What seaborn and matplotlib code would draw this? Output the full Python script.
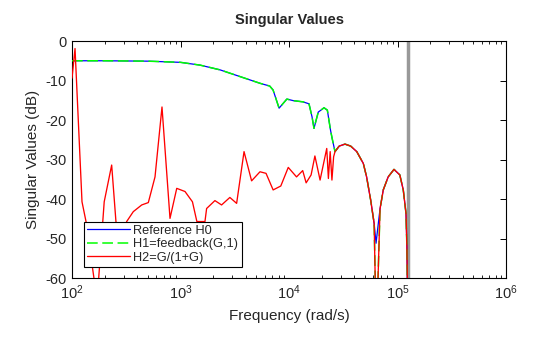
import matplotlib
matplotlib.use("Agg")
import matplotlib.pyplot as plt
import seaborn as sns
import pandas as pd
import numpy as np

# ---- data (frequency in rad/s, singular value in dB) ----
freq_h0 = [100, 200, 500, 1000, 1514, 2312, 3532, 5400, 6640, 7130, 8100, 9550,
           10960, 13460, 15280, 16300, 16990, 18600, 21020, 22560, 24100, 24950,
           26540, 29000, 32800, 37000, 42100, 48400, 51900, 56600, 60900, 63400,
           66000, 69000, 73900, 82000, 92800, 105000, 113000, 119700, 122000, 124500]
db_h0 = [-5.0, -5.0, -5.1, -5.4, -6.1, -7.3, -9.0, -10.7, -11.4, -12.4, -17.0, -14.7,
         -15.1, -15.4, -15.9, -19.2, -22.1, -18.0, -16.9, -17.5, -22.5, -24.6,
         -28.0, -26.6, -26.1, -26.6, -28.0, -31.0, -34.4, -40.3, -46.2, -51.2,
         -47.0, -42.5, -37.7, -34.4, -32.5, -33.9, -37.7, -43.6, -52.0, -70.0]

freq_h1 = [100, 200, 500, 1000, 1514, 2312, 3532, 5400, 6640, 7130, 8100, 9550,
           10960, 13460, 15280, 16300, 16990, 18600, 21020, 22560, 24100, 24950,
           26540, 29000, 32800, 37000, 42100, 48400, 51900, 56600, 60900, 63800,
           69000, 73900, 82000, 92800, 105000, 113000, 119700, 122000, 124500]
db_h1 = [-5.0, -5.0, -5.1, -5.4, -6.1, -7.3, -9.0, -10.7, -11.4, -12.4, -17.0, -14.7,
         -15.1, -15.4, -15.9, -19.2, -22.1, -18.0, -16.9, -17.5, -22.5, -24.6,
         -28.0, -26.6, -26.1, -26.6, -28.0, -31.0, -34.4, -40.3, -46.2, -75.0,
         -42.5, -37.7, -34.4, -32.5, -33.9, -37.7, -43.6, -52.0, -70.0]

freq_h2 = [100, 106.6, 123.6, 134.6, 163, 168, 174, 198, 232, 254, 285, 319, 367,
           439, 505, 582, 675, 800, 923, 1100, 1288, 1415, 1680, 1740, 2075, 2390,
           2850, 3290, 3850, 4520, 5400, 6140, 7140, 8400, 9840, 11730, 13370,
           14380, 15980, 17320, 19330, 22270, 23060, 23950, 24860, 25770, 26540,
           29000, 32800, 37000, 42100, 48400, 51900, 56600, 60900, 63800, 69000,
           73900, 82000, 92800, 105000, 113000, 119700, 122000, 124500]
db_h2 = [-9.4, -1.9, -40.7, -45.7, -62.0, -66.0, -62.0, -40.7, -31.4, -45.7, -50.0,
         -45.7, -43.2, -41.5, -40.9, -34.4, -16.7, -44.9, -37.3, -38.1, -40.7, -45.7,
         -45.7, -42.4, -40.4, -41.5, -39.6, -41.1, -28.0, -35.4, -33.1, -33.5, -37.7,
         -36.7, -32.0, -34.4, -32.8, -35.9, -33.9, -29.1, -35.2, -27.2, -34.8, -28.0,
         -35.2, -29.3, -28.0, -26.6, -26.1, -26.6, -28.0, -31.0, -34.4, -40.3, -46.2,
         -75.0, -42.5, -37.7, -34.4, -32.5, -33.9, -37.7, -43.6, -52.0, -70.0]

nyquist = 125664  # pi / Ts
labels = ["Reference H0", "H1=feedback(G,1)", "H2=G/(1+G)"]

# ---- style ----
sns.set_theme(style="white")
plt.rcParams["font.family"] = ["Liberation Sans", "DejaVu Sans"]
plt.rcParams["axes.edgecolor"] = "black"
plt.rcParams["axes.linewidth"] = 0.8

fig = plt.figure(figsize=(5.6, 3.37), dpi=100)
ax = fig.add_axes([0.1286, 0.175, 0.775, 0.7033])

ax.axvline(nyquist, color="#999999", lw=2.5, zorder=1)

df0 = pd.DataFrame({"f": freq_h0, "db": db_h0})
df1 = pd.DataFrame({"f": freq_h1, "db": db_h1})
df2 = pd.DataFrame({"f": freq_h2, "db": db_h2})

sns.lineplot(data=df0, x="f", y="db", ax=ax, color="#0000ff", lw=0.9,
             sort=False, estimator=None, label=labels[0], zorder=2)
sns.lineplot(data=df1, x="f", y="db", ax=ax, color="#00ff00", lw=1.1,
             dashes=False, sort=False, estimator=None, label=labels[1], zorder=3)
ax.lines[-1].set_dashes((7, 3))
sns.lineplot(data=df2, x="f", y="db", ax=ax, color="#ff0000", lw=0.95,
             sort=False, estimator=None, label=labels[2], zorder=4)

ax.set_xscale("log")
ax.set_xlim(1e2, 1e6)
ax.set_ylim(-60, 0)
ax.set_yticks([0, -10, -20, -30, -40, -50, -60])
ax.set_yticklabels(["0", "-10", "-20", "-30", "-40", "-50", "-60"])

ax.tick_params(axis="both", which="both", direction="in", top=True, right=True,
               colors="black", labelcolor="#262626", labelsize=10.5)
ax.tick_params(which="major", length=4, width=0.7, pad=4)
ax.tick_params(which="minor", length=2.5, width=0.6)
ax.tick_params(axis="x", which="minor", bottom=True, top=True)

ax.set_xlabel("Frequency (rad/s)", fontsize=11, color="#262626", labelpad=5)
ax.set_ylabel("Singular Values (dB)", fontsize=11, color="#262626", labelpad=4)
ax.set_title("Singular Values", fontsize=10.5, fontweight="bold", color="#262626", pad=12)

leg = ax.legend(loc="lower left", bbox_to_anchor=(0.028, 0.046), borderaxespad=0,
                fontsize=9.2, frameon=True, fancybox=False, edgecolor="black",
                framealpha=1, handlelength=3.3, borderpad=0.25, labelspacing=0.12,
                handletextpad=0.3)
leg.get_frame().set_linewidth(0.8)
for t in leg.get_texts():
    t.set_color("#262626")

fig.savefig("out.png", dpi=100)
